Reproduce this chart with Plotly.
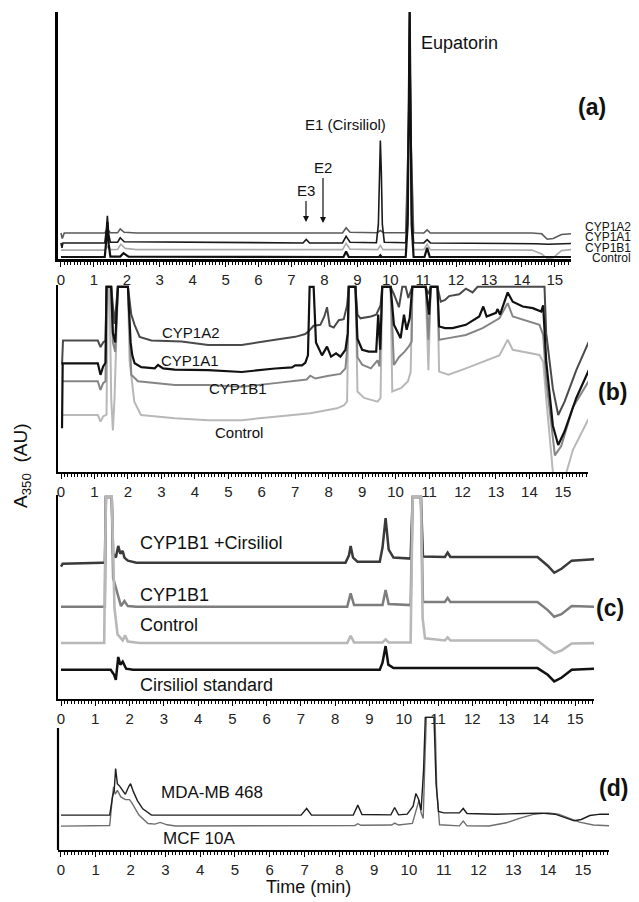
import plotly.graph_objects as go

W, H = 639, 902
def px(x): return x / W
def py(y): return 1 - y / H

# ---------------- Panel (a) data (time in min, absorbance arbitrary 0-100) ----------------
a_cyp1a2_t = [0, 0.04, 0.1, 1.33, 1.41, 1.5, 1.72, 1.8, 1.92, 2.3, 8.55, 8.66, 8.78, 9.6, 9.7, 9.8,
              10.47, 10.56, 10.59, 10.62, 10.71, 11.02, 11.12, 11.22, 14.3, 14.6, 14.77, 14.95, 15.2, 15.49]
a_cyp1a2_v = [10.5, 8.3, 10.5, 10.5, 12, 10.6, 10.6, 12.2, 10.8, 10.5, 10.5, 12.6, 10.8, 10.6, 11.5, 10.6,
              10.6, 55, 100, 55, 10.6, 10.5, 11.8, 10.5, 10.5, 10.2, 8.0, 8.3, 9.9, 10.2]
a_cyp1a1_t = [0, 0.03, 0.06, 1.33, 1.38, 1.41, 1.45, 1.5, 1.72, 1.8, 1.92, 7.35, 7.45, 7.55, 8.55, 8.66, 8.78,
              9.58, 9.64, 9.67, 9.7, 9.73, 9.76, 9.82, 10.47, 10.53, 10.56, 10.59, 10.62, 10.65, 10.71,
              11.02, 11.12, 11.22, 14.4, 14.8, 15.49]
a_cyp1a1_v = [6.5, 4.5, 6.5, 6.5, 12, 17.5, 10, 6.8, 6.8, 8.6, 7, 6.5, 7.9, 6.5, 6.5, 9.2, 6.8,
              6.6, 14, 35, 48, 35, 14, 6.8, 6.6, 18, 55, 100, 55, 18, 6.6,
              6.5, 7.8, 6.5, 6.2, 6.0, 6.3]
a_cyp1b1_t = [0, 1.33, 1.41, 1.5, 1.72, 1.82, 1.95, 2.3, 8.55, 8.66, 8.78, 9.62, 9.7, 9.78,
              10.47, 10.56, 10.59, 10.62, 10.71, 11.02, 11.12, 11.22, 14.3, 14.6, 14.77, 14.95, 15.2, 15.49]
a_cyp1b1_v = [3.6, 3.6, 5, 3.8, 3.9, 6, 4.3, 3.8, 3.8, 6.3, 4, 3.8, 5.5, 3.8,
              3.8, 55, 100, 55, 3.8, 3.8, 6, 3.8, 3.6, 2, 0.2, 0.5, 3.4, 3.8]
a_ctrl_t = [0, 1.33, 1.38, 1.41, 1.45, 1.5, 1.8, 1.9, 2.05, 8.58, 8.66, 8.74, 9.66, 9.7, 9.74,
            10.47, 10.53, 10.56, 10.59, 10.62, 10.65, 10.71, 11.04, 11.12, 11.2, 15.49]
a_ctrl_v = [0.8, 0.8, 8, 15, 6, 1, 1, 2.4, 1, 0.8, 3, 0.8, 0.8, 1.5, 0.8,
            0.8, 14, 55, 100, 55, 14, 0.8, 0.8, 4.5, 0.8, 0.8]

# ---------------- Panel (b) data ----------------
b_cyp1a2_t = [0.03, 0.06, 1.1, 1.18, 1.26, 1.33, 1.36, 1.5, 1.6, 1.7, 2.0, 2.1, 2.2, 2.35, 2.7, 3.6, 4.4, 5.4,
              6.4, 7.0, 7.3, 7.4, 7.55, 7.75, 7.87, 7.95, 8.03, 8.15, 8.3, 8.45, 8.55, 8.6, 8.8, 8.86, 8.95,
              9.26, 9.42, 9.55, 9.6, 9.85, 9.95, 10.1, 10.2, 10.3, 10.38, 10.5, 10.9, 10.98, 11.05, 11.25,
              11.35, 11.48, 11.6, 11.9, 12.1, 12.3, 12.45, 14.45, 14.5, 14.7, 14.86, 15.05, 15.4, 15.8]
b_cyp1a2_v = [58, 71, 71, 67.5, 70, 71, 100, 100, 80, 100, 100, 85, 79.5, 73, 71, 70.5, 68.6, 68.6,
              71.4, 73, 74.5, 76, 79, 79.5, 84, 89, 79, 78, 82, 82.5, 90, 100, 100, 85, 83,
              84, 85, 90, 100, 100, 96, 89, 100, 100, 94, 100, 100, 96, 100, 100,
              92, 93, 95, 96, 99, 97, 100, 100, 75, 45, 30.8, 38, 55, 71.4]
b_cyp1a1_t = [0.03, 0.05, 1.1, 1.18, 1.26, 1.33, 1.36, 1.5, 1.55, 1.62, 1.7, 2.0, 2.08, 2.13, 2.2, 2.4, 2.8,
              2.9, 3.05, 3.4, 4.4, 5.4, 6.4, 6.9, 7.0, 7.2, 7.3, 7.38, 7.43, 7.55, 7.62, 7.8, 7.95, 8.07,
              8.22, 8.35, 8.5, 8.57, 8.6, 8.8, 8.86, 9.0, 9.2, 9.42, 9.48, 9.54, 9.6, 9.85, 9.95, 10.15,
              10.25, 10.33, 10.42, 10.5, 10.9, 11.0, 11.05, 11.25, 11.3, 11.48, 11.7, 12.1, 12.5, 12.62,
              12.72, 13.0, 13.05, 13.12, 13.35, 13.5, 13.8, 14.1, 14.35, 14.41, 14.5, 14.7, 14.86, 15.05,
              15.4, 15.8]
b_cyp1a1_v = [23.6, 58.7, 58.7, 52.5, 57, 59, 100, 100, 75, 70, 100, 100, 70, 63, 58.7, 56.6, 56,
              57.8, 56, 55.3, 55, 54, 55.9, 56.5, 57.6, 57.6, 59, 63, 100, 100, 70, 63, 67.7, 62.3,
              64.1, 62.3, 66, 75, 100, 100, 72, 66, 65, 65, 85, 66, 100, 100, 79.5, 72.3,
              85, 76.8, 83, 100, 100, 85, 100, 100, 78.6, 77.7, 77.7, 79.5, 84, 89.4,
              84, 86, 88, 85, 97, 92, 89.4, 88.5, 86.7, 90, 60, 25, 14.6, 22,
              40, 56]
b_cyp1b1_t = [0.03, 1.1, 1.18, 1.26, 1.33, 1.36, 1.5, 1.55, 1.62, 1.7, 2.0, 2.1, 2.3, 2.9, 3.4, 4.4, 5.4, 6.4,
              7.34, 7.45, 7.6, 8.0, 8.35, 8.5, 8.57, 8.6, 8.8, 8.86, 9.0, 9.26, 9.46, 9.52, 9.6, 9.85, 9.95,
              10.1, 10.27, 10.4, 10.48, 10.5, 10.9, 10.98, 11.05, 11.25, 11.3, 11.58, 12.1, 12.6, 13.1,
              13.35, 13.5, 14.3, 14.41, 14.5, 14.76, 14.95, 15.3, 15.8]
b_cyp1b1_v = [49, 49, 44.3, 48, 49, 100, 100, 70, 65, 100, 100, 52.5, 49, 48, 47, 47, 46, 48,
              50, 52, 50.5, 52, 53, 56, 70, 100, 100, 62, 58, 56, 60.3, 57, 100, 100, 57.8,
              62, 65, 68, 70.5, 100, 100, 71.4, 100, 100, 71.4, 72.3, 74, 77.7, 83,
              91.2, 84, 79.5, 74, 50, 9, 14, 35, 50]
b_ctrl_t = [0.03, 1.1, 1.18, 1.26, 1.36, 1.4, 1.45, 1.5, 1.55, 1.6, 1.7, 2.0, 2.05, 2.19, 2.39, 2.9, 3.4, 4.4,
            5.4, 6.4, 7.45, 8.25, 8.45, 8.55, 8.6, 8.8, 8.86, 9.06, 9.46, 9.55, 9.6, 9.85, 9.9, 10.17,
            10.37, 10.45, 10.5, 10.9, 10.98, 11.05, 11.25, 11.3, 11.58, 12.1, 12.6, 13.1, 13.35, 13.5,
            14.3, 14.41, 14.5, 14.7, 14.85, 15.06, 15.3, 15.8]
b_ctrl_v = [30.8, 30.8, 27.2, 30, 31, 100, 100, 40, 22.4, 40, 100, 100, 60, 38, 30.8, 30, 29, 28,
            28, 29.9, 31.7, 34.4, 36, 38, 100, 100, 43.5, 40, 38, 40, 100, 100, 43.5, 45.4,
            49, 54, 100, 100, 55, 100, 100, 54.2, 52.5, 56, 59.6, 63, 71.4, 66,
            63.2, 59.6, 40, 0, -8, -3, 12, 29.9]

# ---------------- Panel (c) data ----------------
c_cirs_t = [0, 0.05, 1.2, 1.28, 1.31, 1.48, 1.52, 1.6, 1.67, 1.73, 1.8, 1.85, 1.95, 2.2, 8.3, 8.4, 8.45, 8.52,
            8.65, 9.3, 9.38, 9.47, 9.56, 9.7, 10.2, 10.26, 10.5, 10.56, 11.2, 11.28, 11.36, 13.9, 14.2,
            14.39, 14.6, 14.9, 15.6]
c_cirs_v = [65.5, 67, 67.5, 67.5, 100, 100, 72, 70, 75.8, 72, 73.3, 70, 68.5, 67.5, 67.5, 71, 75.8, 70,
            68, 68, 75, 89.5, 74, 70, 69.5, 100, 100, 70.5, 70.3, 72.5, 70.3, 70.3, 66,
            62.5, 64.5, 68.5, 69.2]
c_cyp1b1_t = [0, 1.28, 1.31, 1.48, 1.52, 1.75, 1.85, 1.95, 2.2, 8.35, 8.45, 8.55, 9.38, 9.47, 9.56, 10.2,
              10.26, 10.5, 10.56, 11.2, 11.28, 11.36, 13.9, 14.2, 14.39, 14.6, 14.9, 15.6]
c_cyp1b1_v = [45.7, 45.7, 100, 100, 60, 46, 48.5, 46, 45.7, 45.7, 52.3, 46.5, 46.5, 54, 47, 46.5,
              100, 100, 48, 48, 50, 48, 48, 44, 40.7, 42, 46, 45.7]
c_ctrl_t = [0, 1.26, 1.31, 1.48, 1.52, 1.56, 1.65, 1.8, 1.87, 1.95, 2.3, 8.35, 8.45, 8.55, 9.38, 9.47, 9.56,
            10.2, 10.26, 10.5, 10.55, 10.62, 11.2, 11.28, 11.36, 13.9, 14.2, 14.39, 14.6, 14.9, 15.6]
c_ctrl_v = [27.7, 27.7, 100, 100, 75, 45, 32, 29, 31.5, 28.5, 27.7, 27.7, 31.3, 28, 28, 29.5, 28,
            28, 100, 100, 40, 30, 29, 30.5, 29, 29, 25, 22.7, 24, 27.5, 27.7]
c_std_t = [0, 1.45, 1.55, 1.6, 1.67, 1.73, 1.8, 1.9, 2.1, 9.3, 9.38, 9.47, 9.55, 9.7, 13.9, 14.2, 14.39,
           14.6, 14.9, 15.6]
c_std_v = [14.5, 14.5, 12, 9.5, 20.8, 17, 18.5, 15, 14.5, 14.5, 18, 26.2, 17, 15.3, 15.3, 12, 8.7,
           10.5, 14.5, 15]

# ---------------- Panel (d) data ----------------
d_mda_t = [0, 1.4, 1.48, 1.53, 1.57, 1.62, 1.69, 1.76, 1.85, 1.95, 2.0, 2.08, 2.2, 2.35, 2.6, 6.9, 7.06,
           7.2, 8.4, 8.53, 8.65, 9.48, 9.59, 9.7, 9.95, 10.12, 10.2, 10.28, 10.35, 10.42, 10.47, 10.72,
           10.78, 10.85, 11.0, 11.45, 11.56, 11.67, 12.5, 13.3, 13.8, 14.2, 14.5, 14.75, 14.95, 15.2,
           15.5, 15.9]
d_mda_v = [26.3, 26.3, 40, 45, 61.4, 50, 48, 45, 42, 48, 50, 44, 37, 31, 26.3, 26.3, 31.3,
           26.3, 26.3, 33.8, 26.8, 26.5, 32, 26.5, 27, 33, 42.6, 38, 30, 60, 100, 100,
           50, 29, 28, 28, 31.3, 27.5, 27, 27.5, 27.8, 27, 24.5, 22, 23, 26,
           27, 27]
d_mcf_t = [0, 1.4, 1.46, 1.51, 1.56, 1.62, 1.72, 1.85, 1.97, 2.05, 2.24, 2.5, 2.7, 2.85, 3.05, 3.3, 8.45,
           8.53, 8.62, 9.5, 9.59, 9.7, 10.1, 10.2, 10.29, 10.35, 10.41, 10.45, 10.5, 10.75, 10.8, 10.88,
           11.45, 11.56, 11.67, 12.3, 12.8, 13.2, 13.6, 14.0, 14.3, 14.6, 14.9, 15.3, 15.9]
d_mcf_v = [18, 18.5, 35, 47.6, 42, 45, 40, 38, 38, 35, 26.3, 20, 19.5, 20.8, 19, 18.1, 18.5,
           19.8, 18.6, 18.8, 20.3, 18.8, 20, 30, 37.6, 28, 23.8, 60, 100, 100, 45, 19,
           18.2, 21.8, 18.2, 18.1, 20.5, 24, 27, 28, 27, 24, 21, 18.8, 18.1]

tick_labels = [str(i) for i in range(16)]

fig = go.Figure()

def add(t, v, xa, ya, color, width):
    fig.add_trace(go.Scatter(x=t, y=v, xaxis=xa, yaxis=ya, mode="lines",
                             line=dict(color=color, width=width, shape="linear"),
                             hoverinfo="skip", showlegend=False))

# panel a
add(a_cyp1b1_t, a_cyp1b1_v, "x", "y", "#ababab", 1.6)
add(a_cyp1a2_t, a_cyp1a2_v, "x", "y", "#5a5a5a", 1.6)
add(a_cyp1a1_t, a_cyp1a1_v, "x", "y", "#1a1a1a", 1.6)
add(a_ctrl_t, a_ctrl_v, "x", "y", "#111111", 2.2)
# panel b
add(b_ctrl_t, b_ctrl_v, "x2", "y2", "#b8b8b8", 2.0)
add(b_cyp1b1_t, b_cyp1b1_v, "x2", "y2", "#858585", 2.0)
add(b_cyp1a2_t, b_cyp1a2_v, "x2", "y2", "#4a4a4a", 2.0)
add(b_cyp1a1_t, b_cyp1a1_v, "x2", "y2", "#111111", 2.2)
# panel c
add(c_cirs_t, c_cirs_v, "x3", "y3", "#3a3a3a", 2.5)
add(c_cyp1b1_t, c_cyp1b1_v, "x3", "y3", "#7d7d7d", 2.5)
add(c_std_t, c_std_v, "x3", "y3", "#111111", 2.5)
add(c_ctrl_t, c_ctrl_v, "x3", "y3", "#b8b8b8", 2.6)
# panel d
add(d_mcf_t, d_mcf_v, "x4", "y4", "#6e6e6e", 1.4)
add(d_mda_t, d_mda_v, "x4", "y4", "#1e1e1e", 1.4)

NARROW = "Liberation Sans Narrow, Arial Narrow, Liberation Sans, Arial"
tickfont = dict(family=NARROW, size=15, color="#222")

def xaxis_cfg(domain_px, rng, anchor, lw):
    return dict(domain=[px(domain_px[0]), px(domain_px[1])], range=rng, anchor=anchor,
                showline=True, linecolor="black", linewidth=lw, ticks="outside", ticklen=5,
                tickwidth=1.2, tickcolor="black", tickmode="array", tickvals=list(range(16)),
                ticktext=tick_labels,
                minor=dict(ticks="outside", dtick=0.1, tick0=0, ticklen=3, tickwidth=1, tickcolor="black"),
                showgrid=False, zeroline=False, tickfont=tickfont, fixedrange=True)

def yaxis_cfg(domain_px, rng, anchor, lw, showline=True):
    return dict(domain=[py(domain_px[0]), py(domain_px[1])], range=rng, anchor=anchor,
                showline=showline, linecolor="black", linewidth=lw, ticks="", showticklabels=False,
                showgrid=False, zeroline=False, fixedrange=True)

fig.update_layout(
    width=W, height=H, margin=dict(l=0, r=0, t=0, b=0),
    paper_bgcolor="white", plot_bgcolor="white",
    font=dict(family="Liberation Sans, Arial", color="#111"),
    xaxis=xaxis_cfg((58, 571), [-0.09, 15.49], "y", 3),
    yaxis=yaxis_cfg((259, 12), [0, 100], "x", 3),
    xaxis2=xaxis_cfg((58, 588), [-0.09, 15.75], "y2", 2.2),
    yaxis2=yaxis_cfg((472, 285), [0, 101], "x2", 2.2),
    xaxis3=xaxis_cfg((58, 594), [-0.0875, 15.55], "y3", 2.2),
    yaxis3=yaxis_cfg((699, 495), [0, 101], "x3", 2.2),
    xaxis4=xaxis_cfg((58, 609), [-0.086, 15.75], "y4", 2.2),
    yaxis4=yaxis_cfg((850, 716), [0, 101], "x4", 2.2, showline=False),
)

fig.add_shape(type="line", xref="paper", yref="paper", x0=px(58), x1=px(58), y0=py(850), y1=py(728),
              line=dict(color="black", width=2.2))

def note(text, x, y, size, bold=False, anchor="center", family="Liberation Sans, Arial"):
    fig.add_annotation(text=f"<b>{text}</b>" if bold else text, x=px(x), y=py(y), xref="paper", yref="paper",
                       showarrow=False, xanchor=anchor, yanchor="middle",
                       font=dict(size=size, color="#111", family=family))

# panel a labels
note("Eupatorin", 460, 43, 18)
note("E1 (Cirsiliol)", 345, 125, 15)
note("(a)", 592, 107, 23, bold=True)
for lab, yy in [("CYP1A2", 226.5), ("CYP1A1", 237), ("CYP1B1", 247.5), ("Control", 258)]:
    note(lab, 633, yy, 12, anchor="right", family=NARROW)
for lab, xh, yh, yt in [("E2", 323, 223, 168), ("E3", 306, 222, 191)]:
    fig.add_annotation(text=lab, x=px(xh), y=py(yh), xref="paper", yref="paper", showarrow=True,
                       ax=0, ay=yt - yh, arrowhead=2, arrowsize=1, arrowwidth=1.2, arrowcolor="#111",
                       standoff=0, font=dict(size=15, color="#111"))
# panel b labels
note("CYP1A2", 191, 333, 15)
note("CYP1A1", 190, 360, 15)
note("CYP1B1", 238, 388, 15)
note("Control", 239, 433, 15)
note("(b)", 612, 392, 23, bold=True)
# panel c labels
note("CYP1B1 +Cirsiliol", 138, 543, 18, anchor="left")
note("CYP1B1", 138, 595, 18, anchor="left")
note("Control", 138, 625, 18, anchor="left")
note("Cirsiliol standard", 138, 685, 18, anchor="left")
note("(c)", 610, 608, 23, bold=True)
# panel d labels
note("MDA-MB 468", 212, 792, 17)
note("MCF 10A", 199, 838, 17)
note("(d)", 613, 788, 23, bold=True)
# axis titles
note("Time (min)", 308, 887, 18)
fig.add_annotation(text="A<sub>350</sub>  (AU)", x=px(22), y=py(466), xref="paper", yref="paper",
                   showarrow=False, textangle=-90, xanchor="center", yanchor="middle",
                   font=dict(size=19, color="#111"))

fig.write_html("out.html", config={"displayModeBar": False},
               post_script="document.body.style.margin='0';document.body.style.padding='0';")
